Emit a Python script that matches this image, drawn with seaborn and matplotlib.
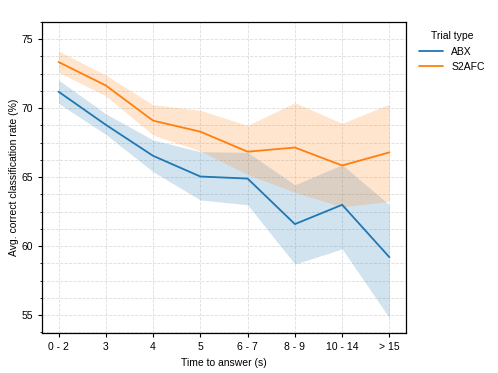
import numpy as np
import pandas as pd
import matplotlib
matplotlib.use("Agg")
import matplotlib.pyplot as plt
from matplotlib.ticker import AutoMinorLocator
import seaborn as sns

# values
time_bins = ["0 - 2", "3", "4", "5", "6 - 7", "8 - 9", "10 - 14", "> 15"]
trial_types = ["ABX", "S2AFC"]

abx_mean = [71.2, 68.8, 66.55, 65.05, 64.9, 61.6, 63.0, 59.2]
abx_low = [70.35, 68.1, 65.4, 63.35, 63.0, 58.7, 59.8, 54.8]
abx_high = [72.05, 69.6, 67.7, 66.85, 66.8, 64.45, 65.9, 63.0]

s2afc_mean = [73.35, 71.65, 69.1, 68.3, 66.85, 67.15, 65.85, 66.8]
s2afc_low = [72.6, 70.9, 68.05, 66.9, 65.2, 63.9, 62.85, 63.25]
s2afc_high = [74.15, 72.4, 70.25, 69.85, 68.75, 70.4, 68.9, 70.3]

df = pd.DataFrame({
    "time": time_bins * 2,
    "trial": np.repeat(trial_types, len(time_bins)),
    "mean": abx_mean + s2afc_mean,
    "low": abx_low + s2afc_low,
    "high": abx_high + s2afc_high,
})

sns.set_style("white")
plt.rcParams["font.family"] = ["Liberation Sans", "DejaVu Sans"]
plt.rcParams["font.size"] = 7.5
plt.rcParams["text.color"] = "black"
plt.rcParams["axes.labelcolor"] = "black"
plt.rcParams["xtick.color"] = "black"
plt.rcParams["ytick.color"] = "black"

palette = {"ABX": "#1f77b4", "S2AFC": "#ff7f0e"}

fig = plt.figure(figsize=(4.98, 3.73), dpi=100)
ax = fig.add_axes([0.0843, 0.107, 0.7309, 0.834])

sns.lineplot(data=df, x="time", y="mean", hue="trial", palette=palette,
             linewidth=1.3, ax=ax, sort=False)

for t in trial_types:
    sub = df[df["trial"] == t]
    ax.fill_between(sub["time"], sub["low"], sub["high"],
                    color=palette[t], alpha=0.2, linewidth=0)

ax.set_xlim(-0.35, 7.35)
ax.set_ylim(53.7, 76.25)
ax.yaxis.set_minor_locator(AutoMinorLocator(4))
ax.grid(True, which="both", linestyle="--", color="#dddddd", linewidth=0.6)
ax.set_axisbelow(True)
ax.tick_params(axis="both", which="major", direction="out", length=3,
               width=0.8, labelsize=7.5, left=True, bottom=True, color="black")
ax.tick_params(axis="y", which="minor", direction="out", length=1.5,
               width=0.6, left=True, color="black")
for s in ax.spines.values():
    s.set_color("black")
    s.set_linewidth(0.9)

ax.set_xlabel("Time to answer (s)", fontsize=7.5)
ax.set_ylabel("Avg. correct classification rate (%)", fontsize=7.5, labelpad=2)

ax.legend(title="Trial type", loc="upper left", bbox_to_anchor=(1.01, 1.0),
          frameon=False, fontsize=7.5, title_fontsize=7.5, handlelength=2.3)

fig.savefig("out.png", dpi=100)
